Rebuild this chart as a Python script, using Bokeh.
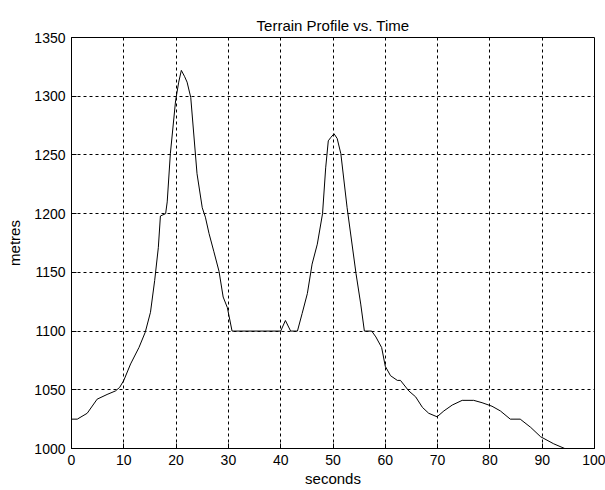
from bokeh.plotting import figure
from bokeh.models import Range1d, FixedTicker
from bokeh.embed import file_html
from bokeh.resources import INLINE

seconds = [0, 1.1, 3.0, 4.9, 6.8, 8.4, 9.2, 10.0, 11.3, 12.9, 14.1, 15.1, 15.9, 16.6, 17.0, 18.0,
           18.3, 18.9, 19.9, 20.5, 21.0, 21.6, 22.1, 22.8, 24.0, 25.0, 25.6, 26.3, 27.2, 28.2,
           29.0, 29.8, 30.7, 40.0, 40.9, 41.9, 43.2, 44.1, 45.1, 46.0, 47.0, 48.0, 48.6, 49.1,
           49.6, 50.2, 50.8, 51.5, 52.7, 54.4, 55.3, 56.0, 57.4, 58.2, 59.3, 60.0, 61.0, 62.3,
           62.9, 64.5, 65.8, 67.1, 68.3, 69.9, 71.2, 72.8, 74.7, 76.9, 78.5, 80.4, 82.0, 83.9,
           85.8, 87.8, 89.7, 92.2, 94.3, 95.5]
metres = [1025, 1025, 1030, 1042, 1046, 1049, 1052, 1058, 1072, 1086, 1099, 1116, 1143, 1171, 1198, 1200,
          1210, 1251, 1296, 1312, 1322, 1317, 1312, 1299, 1234, 1205, 1197, 1183, 1168, 1151,
          1129, 1120, 1100, 1100, 1109, 1100, 1100, 1115, 1132, 1157, 1174, 1200, 1239, 1262,
          1265, 1268, 1264, 1251, 1205, 1149, 1123, 1100, 1100, 1095, 1086, 1070, 1062, 1058,
          1058, 1049, 1044, 1035, 1030, 1027, 1032, 1037, 1041, 1041, 1039, 1036, 1032, 1025,
          1025, 1018, 1010, 1004, 1000, 997]
x_ticks = [0, 10, 20, 30, 40, 50, 60, 70, 80, 90, 100]
y_ticks = [1000, 1050, 1100, 1150, 1200, 1250, 1300, 1350]

FONT = "Liberation Sans"

p = figure(width=605, height=490, output_backend="svg", toolbar_location=None,
           x_range=Range1d(0, 100), y_range=Range1d(1000, 1350),
           title="Terrain Profile vs. Time",
           min_border_left=71, min_border_right=11, min_border_top=37, min_border_bottom=42)

p.title.align = "center"
p.title.text_font = FONT
p.title.text_font_size = "15px"
p.title.text_font_style = "normal"
p.title.text_color = "black"
p.title.standoff = 7

p.line(seconds, metres, line_color="black", line_width=1)

p.xaxis.ticker = FixedTicker(ticks=x_ticks)
p.yaxis.ticker = FixedTicker(ticks=y_ticks)
p.xaxis.axis_label = "seconds"
p.yaxis.axis_label = "metres"
for ax in (p.xaxis, p.yaxis):
    ax.axis_label_text_font = FONT
    ax.axis_label_text_font_size = "15px"
    ax.axis_label_text_font_style = "normal"
    ax.axis_label_text_color = "black"
    ax.major_label_text_font = FONT
    ax.major_label_text_font_size = "14px"
    ax.major_label_text_color = "black"
    ax.major_tick_in = 5
    ax.major_tick_out = 0
    ax.minor_tick_in = 0
    ax.minor_tick_out = 0
    ax.major_label_standoff = 6
    ax.axis_line_color = "black"
    ax.major_tick_line_color = "black"
p.xaxis.axis_label_standoff = 2
p.yaxis.axis_label_standoff = 8

for g in (p.xgrid, p.ygrid):
    g.grid_line_color = "black"
    g.grid_line_dash = "3 3"
    g.grid_line_width = 1

p.outline_line_color = "black"
p.outline_line_width = 1
p.background_fill_color = "white"
p.border_fill_color = "white"

open("out.html", "w").write(file_html(p, INLINE))
